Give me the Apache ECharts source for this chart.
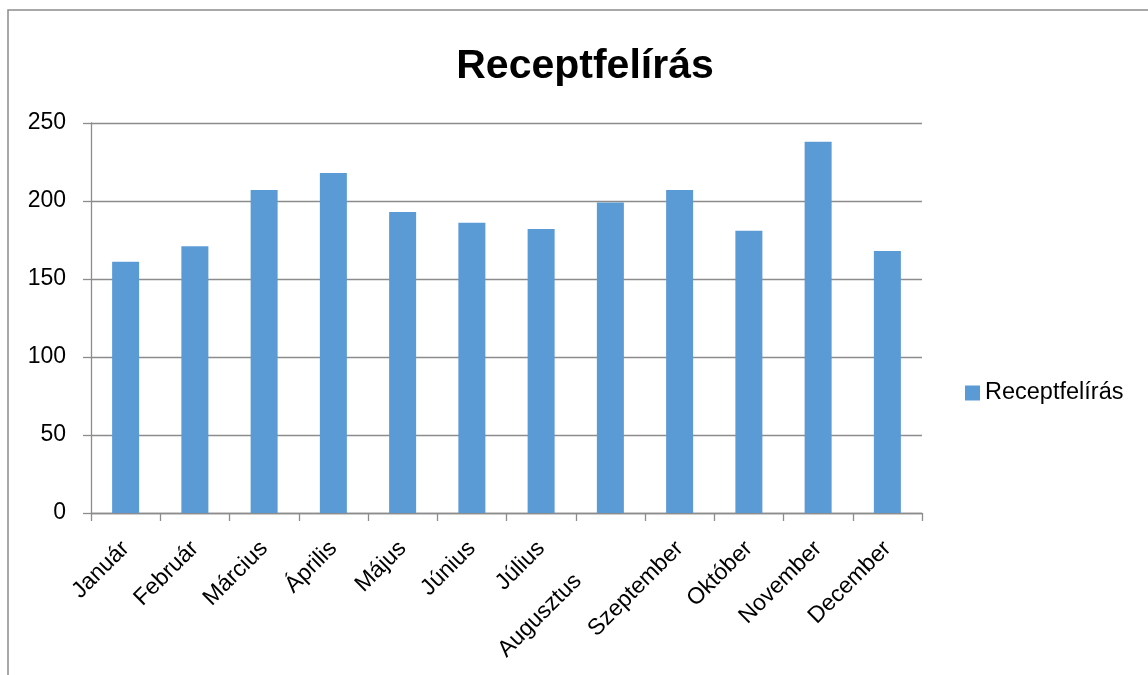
<!DOCTYPE html>
<html>
<head>
<meta charset="utf-8">
<script src="https://cdn.jsdelivr.net/npm/echarts@6/dist/echarts.min.js"></script>
<style>
  html, body { margin: 0; padding: 0; background: #fff; }
  #chart { width: 1148px; height: 675px; }
</style>
</head>
<body>
<div id="chart"></div>
<script>
var months = ['Január', 'Február', 'Március', 'Április', 'Május', 'Június',
  'Július', 'Augusztus', 'Szeptember', 'Október', 'November', 'December'];
var recept = [161, 171, 207, 218, 193, 186, 182, 199, 207, 181, 238, 168];
var yTicks = [0, 50, 100, 150, 200, 250];

var font = 'Liberation Sans, Arial, sans-serif';
var gray = '#8c8c8c';

var chart = echarts.init(document.getElementById('chart'));

// Augusztus sits lower in the original (label shifted along its diagonal)
var catData = months.map(function (m, i) {
  if (i === 7) return { value: m, textStyle: { padding: [0, 46, 0, 0] } };
  return m;
});

chart.setOption({
  animation: false,
  title: {
    text: 'Receptfelírás',
    left: 580,
    textAlign: 'center',
    top: 41,
    textStyle: { fontFamily: font, fontSize: 41, fontWeight: 'bold', color: '#000' }
  },
  legend: {
    data: ['Receptfelírás'],
    left: 960,
    top: 376,
    itemWidth: 15,
    itemHeight: 15,
    icon: 'rect',
    textStyle: { fontFamily: font, fontSize: 23.5, color: '#000' }
  },
  graphic: [{
    type: 'polyline',
    shape: { points: [[8, 700], [8, 10], [1160, 10]] },
    style: { stroke: gray, lineWidth: 1.5, fill: null }
  }],
  grid: { left: 91, right: 226, top: 123, bottom: 162 },
  xAxis: {
    type: 'category',
    data: catData,
    axisLine: { lineStyle: { color: gray, width: 1.3 } },
    axisTick: { show: true, length: 8, lineStyle: { color: gray, width: 1.3 } },
    axisLabel: { rotate: 45, margin: 32, fontFamily: font, fontSize: 23, color: '#000', interval: 0 }
  },
  yAxis: {
    type: 'value',
    min: yTicks[0],
    max: yTicks[yTicks.length - 1],
    interval: 50,
    axisLine: { show: true, lineStyle: { color: gray, width: 1.3 } },
    axisTick: { show: true, length: 8, lineStyle: { color: gray, width: 1.3 } },
    splitLine: { lineStyle: { color: gray, width: 1.3 } },
    axisLabel: { margin: 25, fontFamily: font, fontSize: 23, color: '#000' }
  },
  series: [{
    name: 'Receptfelírás',
    type: 'bar',
    barWidth: 27,
    itemStyle: { color: '#5b9bd5' },
    data: recept
  }]
});
</script>
</body>
</html>
